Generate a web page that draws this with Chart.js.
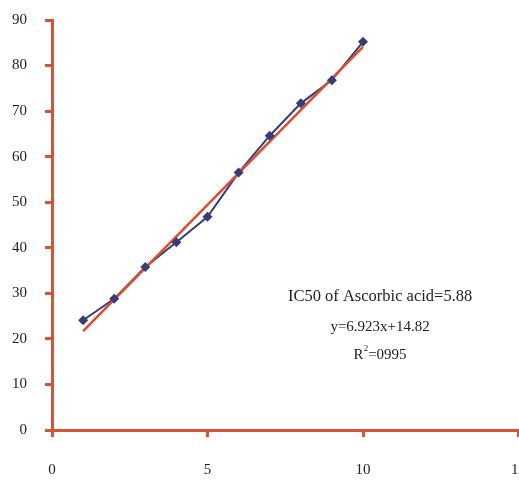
<!DOCTYPE html>
<html>
<head>
<meta charset="utf-8">
<script src="https://cdn.jsdelivr.net/npm/chart.js@4/dist/chart.umd.min.js"></script>
<style>
  html, body { margin: 0; padding: 0; background: #ffffff; overflow: hidden; }
  #wrap { position: relative; width: 550px; height: 481px; }
</style>
</head>
<body>
<div id="wrap"><canvas id="c"></canvas></div>
<script>
// Data
const concentrations = [1, 2, 3, 4, 5, 6, 7, 8, 9, 10];
const inhibition = [24.1, 28.8, 35.8, 41.2, 46.8, 56.5, 64.6, 71.7, 76.8, 85.2];
const trendX = [1, 10];
const trendY = [21.7, 84.1];
const xTicks = [0, 5, 10, 15];
const yTicks = [0, 10, 20, 30, 40, 50, 60, 70, 80, 90];
const annotationLines = ["IC50 of Ascorbic acid=5.88", "y=6.923x+14.82", "R", "2", "=0995"];

const AXIS_RED = '#d6533a';
const TREND_RED = '#d9502f';
const NAVY = '#363c78';
const FONT = "'Liberation Serif', 'DejaVu Serif', serif";

const dataPts = concentrations.map((x, i) => ({ x: x, y: inhibition[i] }));
const trendPts = trendX.map((x, i) => ({ x: x, y: trendY[i] }));

const annotationPlugin = {
  id: 'ann',
  afterDatasetsDraw(chart) {
    const ctx = chart.ctx;
    const xs = chart.scales.x, ys = chart.scales.y;
    const cx = xs.getPixelForValue(10.55);
    ctx.save();
    ctx.fillStyle = '#222';
    ctx.textAlign = 'center';
    ctx.textBaseline = 'middle';
    ctx.font = "16.5px " + FONT;
    ctx.fillText(annotationLines[0], cx, ys.getPixelForValue(29.2));
    ctx.font = "15px " + FONT;
    ctx.fillText(annotationLines[1], cx, ys.getPixelForValue(22.6));
    // R^2 line
    const yR = ys.getPixelForValue(16.5);
    const wR = ctx.measureText(annotationLines[2]).width;
    const wE = ctx.measureText(annotationLines[4]).width;
    ctx.font = "9px " + FONT;
    const w2 = ctx.measureText(annotationLines[3]).width;
    const total = wR + w2 + wE;
    let x0 = cx - total / 2;
    ctx.textAlign = 'left';
    ctx.font = "15px " + FONT;
    ctx.fillText(annotationLines[2], x0, yR);
    ctx.font = "9px " + FONT;
    ctx.fillText(annotationLines[3], x0 + wR, yR - 6);
    ctx.font = "15px " + FONT;
    ctx.fillText(annotationLines[4], x0 + wR + w2, yR);
    ctx.restore();
  }
};

new Chart(document.getElementById('c'), {
  type: 'scatter',
  data: {
    datasets: [
      { data: dataPts, showLine: true, borderColor: NAVY, borderWidth: 2, pointRadius: 0, order: 3 },
      { data: trendPts, showLine: true, borderColor: TREND_RED, borderWidth: 2.6, pointRadius: 0, order: 2 },
      { data: dataPts, showLine: false, pointStyle: 'rectRot', pointRadius: 5,
        backgroundColor: NAVY, borderColor: NAVY, borderWidth: 0, order: 1 }
    ]
  },
  options: {
    responsive: true,
    maintainAspectRatio: false,
    animation: false,
    layout: { padding: { left: 0, top: 0, right: 0, bottom: 0 } },
    plugins: { legend: { display: false }, tooltip: { enabled: false } },
    scales: {
      x: {
        type: 'linear', min: 0, max: 15,
        afterBuildTicks: (s) => { s.ticks = xTicks.map(v => ({ value: v })); },
        afterFit: (s) => { s.height = 51; },
        border: { display: true, color: AXIS_RED, width: 3 },
        grid: { drawOnChartArea: false, drawTicks: true, tickLength: 7, color: AXIS_RED, lineWidth: 3 },
        ticks: { color: '#222', font: { family: FONT, size: 15 }, padding: 24, maxRotation: 0 }
      },
      y: {
        type: 'linear', min: 0, max: 90,
        afterBuildTicks: (s) => { s.ticks = yTicks.map(v => ({ value: v })); },
        afterFit: (s) => { s.width = 52; s.paddingTop = 20; s.paddingBottom = 0; },
        border: { display: true, color: AXIS_RED, width: 3 },
        grid: { drawOnChartArea: false, drawTicks: true, tickLength: 7, color: AXIS_RED, lineWidth: 3 },
        ticks: { color: '#222', font: { family: FONT, size: 15 }, padding: 18 }
      }
    }
  },
  plugins: [annotationPlugin]
});
</script>
</body>
</html>
